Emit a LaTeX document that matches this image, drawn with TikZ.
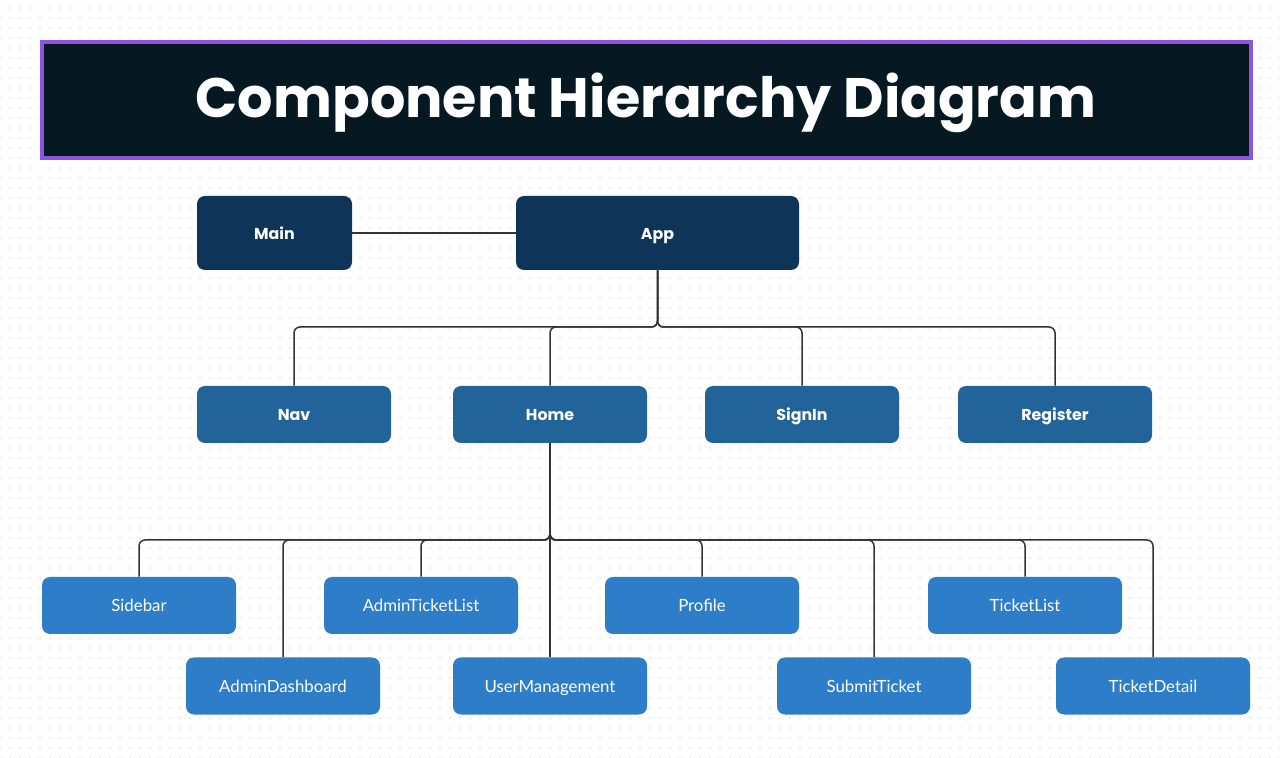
\documentclass[tikz,border=0pt]{standalone}
\usepackage{fontspec}
\setmainfont{Lato}
\newfontfamily\titlefont{Poppins}
\usetikzlibrary{positioning,patterns.meta}

\definecolor{titlebg}{HTML}{061822}
\definecolor{titleedge}{HTML}{8B55E0}
\definecolor{rootblue}{HTML}{0E3558}
\definecolor{midblue}{HTML}{22649A}
\definecolor{leafblue}{HTML}{2E7DC8}
\definecolor{linkgray}{HTML}{333333}
\definecolor{dotgray}{HTML}{E4E6EA}

\tikzset{
  box/.style={rectangle, rounded corners=4pt, text=white, minimum height=28.5pt, inner sep=0pt,
    text height=1.5ex, text depth=0.3ex},
  rootbox/.style={box, fill=rootblue, minimum height=37pt, font=\titlefont\bfseries\fontsize{7.9}{9}\selectfont},
  midbox/.style={box, fill=midblue, minimum width=97pt, font=\titlefont\bfseries\fontsize{7.9}{9}\selectfont},
  leafbox/.style={box, fill=leafblue, minimum width=97pt, font=\fontsize{8.4}{10}\selectfont},
  link/.style={draw=linkgray, line width=0.75pt, rounded corners=3pt}
}

\begin{document}
\begin{tikzpicture}[x=0.5pt, y=-0.5pt]
  \useasboundingbox (0,0) rectangle (1280,758);
  \fill[white] (0,0) rectangle (1280,758);
  \fill[pattern={Dots[distance=5pt, radius=0.55pt]}, pattern color=dotgray] (0,0) rectangle (1280,758);

  % title bar
  \draw[fill=titlebg, draw=titleedge, line width=1.6pt] (42,42) rectangle (1251,158);
  \node[text=white, font=\titlefont\bfseries\fontsize{27.8}{33}\selectfont] (title) at (646,103) {Component Hierarchy Diagram};

  % top level
  \node[rootbox, minimum width=77.5pt] (main) at (274.5,233) {Main};
  \node[rootbox, minimum width=141.5pt] (app) at (657.5,233) {App};

  % second level
  \node[midbox] (nav) at (294,414.5) {Nav};
  \node[midbox] (home) at (550,414.5) {Home};
  \node[midbox] (signin) at (802,414.5) {SignIn};
  \node[midbox] (register) at (1055,414.5) {Register};

  % leaves
  \node[leafbox] (sidebar) at (139,605.5) {Sidebar};
  \node[leafbox] (adminlist) at (421,605.5) {AdminTicketList};
  \node[leafbox] (profile) at (702,605.5) {Profile};
  \node[leafbox] (ticketlist) at (1025,605.5) {TicketList};
  \node[leafbox] (admindash) at (283,686) {AdminDashboard};
  \node[leafbox] (usermgmt) at (550,686) {UserManagement};
  \node[leafbox] (submit) at (874,686) {SubmitTicket};
  \node[leafbox] (detail) at (1153,686) {TicketDetail};

  % buses
  \coordinate (busA) at (657,327);
  \coordinate (busB) at (550,540);

  \draw[link] (main) -- (app);

  \foreach \kid in {nav,home,signin,register}
    \draw[link] (app.south) -- (app.south |- busA) -| (\kid.north);

  \foreach \kid in {sidebar,admindash,adminlist,profile,submit,ticketlist,detail}
    \draw[link] (home.south) -- (home.south |- busB) -| (\kid.north);
  \draw[link] (home.south) -- (usermgmt.north);
\end{tikzpicture}
\end{document}
